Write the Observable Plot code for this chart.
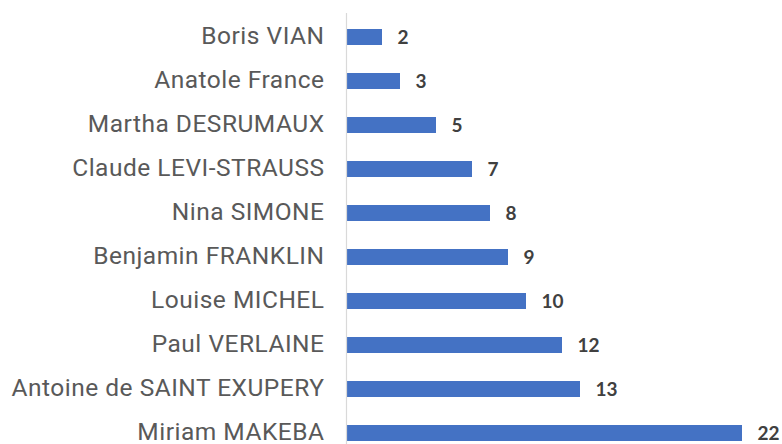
<!DOCTYPE html>
<html>
<head>
<meta charset="utf-8">
<script src="https://cdn.jsdelivr.net/npm/d3@7"></script>
<script src="https://cdn.jsdelivr.net/npm/@observablehq/plot@0.6"></script>
<style>
  html, body { margin: 0; padding: 0; background: #fff; }
  #chart svg g[aria-label="y-axis tick label"] { letter-spacing: 0.5px; }
</style>
</head>
<body>
<div id="chart"></div>
<script>
const names = ["Boris VIAN", "Anatole France", "Martha DESRUMAUX", "Claude LEVI-STRAUSS", "Nina SIMONE", "Benjamin FRANKLIN", "Louise MICHEL", "Paul VERLAINE", "Antoine de SAINT EXUPERY", "Miriam MAKEBA"];
const counts = [2, 3, 5, 7, 8, 9, 10, 12, 13, 22];

const data = names.map((name, i) => ({name, count: counts[i]}));

const chart = Plot.plot({
  width: 782,
  height: 444,
  marginTop: 13,
  marginBottom: 0,
  marginLeft: 346,
  marginRight: 0,
  style: {fontFamily: "Roboto, sans-serif", color: "#595959", background: "#fff"},
  x: {domain: [0, 22], range: [346, 742], axis: null},
  y: {domain: names, range: [-0.9, 471], padding: 0.64, label: null},
  marks: [
    Plot.barX(data, {x: "count", y: "name", fill: "#4472C4"}),
    Plot.ruleX([0], {stroke: "#d9d9d9", strokeWidth: 1.2}),
    Plot.axisY({tickSize: 0, tickPadding: 22, fontSize: 24.5, dy: -1, label: null}),
    Plot.text(data, {x: "count", y: "name", text: d => String(d.count), textAnchor: "start", dx: 15, dy: 0, fill: "#404040", fontSize: 19, fontWeight: "bold", fontFamily: "Lato, sans-serif"})
  ]
});
document.getElementById("chart").appendChild(chart);
</script>
</body>
</html>
